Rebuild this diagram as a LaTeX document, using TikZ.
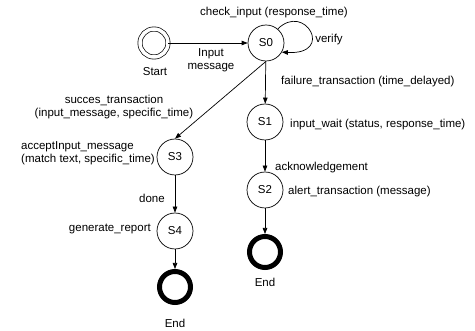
\documentclass[tikz,border=0pt]{standalone}
\usepackage{fontspec}
\setmainfont{Liberation Sans}
\usetikzlibrary{arrows.meta}
\begin{document}
\begin{tikzpicture}[x=1pt,y=-1pt,
  font=\fontsize{11.5}{13}\selectfont,
  state/.style={draw, circle, line width=0.7pt, minimum size=36pt, inner sep=0pt},
  startstate/.style={draw, circle, double, double distance=3.5pt, line width=0.7pt, minimum size=28pt, inner sep=0pt},
  endstate/.style={draw, circle, line width=5pt, minimum size=31pt, inner sep=0pt},
  conn/.style={line width=0.7pt, -{Triangle[length=6pt,width=4.5pt]}},
  lbl/.style={inner sep=0pt}]
\useasboundingbox (0,0) rectangle (475,331);
\node[startstate] (start) at (154,43) {};
\node[state] (S0) at (266,43) {S0};
\node[state] (S1) at (265,122) {S1};
\node[state] (S2) at (265,190) {S2};
\node[endstate] (E1) at (265,252) {};
\node[state] (S3) at (175,157) {S3};
\node[state] (S4) at (175,231) {S4};
\node[endstate] (E2) at (175,287) {};

\draw[conn] (start) -- (S0);
\draw[conn] (S0.50) .. controls (305,2) and (335,55) .. (S0.-30);
\draw[conn] (S0) -- (S1);
\draw[conn] (S0.south) -- (S3.north);
\draw[conn] (S1) -- (S2);
\draw[conn] (S2) -- (E1);
\draw[conn] (S3) -- (S4);
\draw[conn] (S4) -- (E2);

\node[lbl] (l1) at (274,13) {check\_input (response\_time)};
\node[lbl] (l2) at (329,40) {verify};
\node[lbl, align=center] (l3) at (211,60) {Input\\message};
\node[lbl] (l4) at (155,72) {Start};
\node[lbl, anchor=west] (l5) at (281,82) {failure\_transaction (time\_delayed)};
\node[lbl, align=center] (l6) at (114,107) {succes\_transaction\\(input\_message, specific\_time)};
\node[lbl, align=left, anchor=west] (l7) at (21,153) {acceptInput\_message\\(match text, specific\_time)};
\node[lbl] (l8) at (152,198) {done};
\node[lbl, anchor=east] (l9) at (151,229) {generate\_report};
\node[lbl, anchor=west] (l10) at (290,125) {input\_wait (status, response\_time)};
\node[lbl, anchor=west] (l11) at (275,168) {acknowledgement};
\node[lbl, anchor=west] (l12) at (288,192) {alert\_transaction (message)};
\node[lbl] (l13) at (265,282) {End};
\node[lbl] (l14) at (175,323) {End};
\end{tikzpicture}
\end{document}
